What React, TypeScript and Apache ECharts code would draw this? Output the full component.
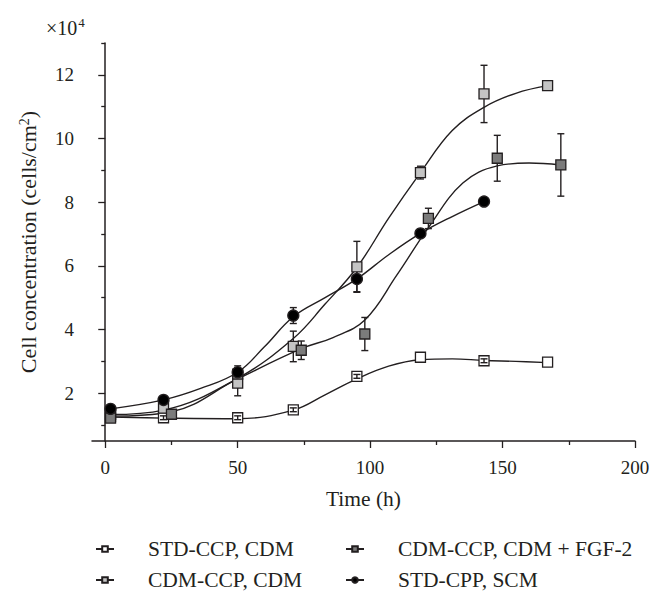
import React, { useEffect, useRef } from "react";
import * as echarts from "echarts";

// ---- data (cell concentration, ×10^4 cells/cm²) ----
const stdCdmTime = [2, 22, 50, 71, 95, 119, 143, 167];
const stdCdmValue = [1.27, 1.23, 1.23, 1.48, 2.53, 3.13, 3.02, 2.98];
const stdCdmErr = [0, 0.06, 0.06, 0.06, 0.06, 0, 0.06, 0];
const stdCdmFitTime = [2, 22, 50, 71, 83, 95, 107, 119, 131, 143, 155, 167];
const stdCdmFitValue = [1.25, 1.22, 1.2, 1.47, 1.95, 2.45, 2.85, 3.05, 3.08, 3.03, 3.0, 2.96];

const cdmCdmTime = [2, 22, 50, 71, 95, 119, 143, 167];
const cdmCdmValue = [1.34, 1.53, 2.32, 3.47, 5.97, 8.93, 11.4, 11.66];
const cdmCdmErr = [0.05, 0.08, 0.4, 0.48, 0.8, 0.2, 0.9, 0.1];
const cdmCdmFitTime = [2, 22, 50, 71, 83, 95, 107, 119, 131, 143, 155, 167];
const cdmCdmFitValue = [1.33, 1.47, 2.47, 3.72, 4.8, 5.95, 7.5, 8.93, 10.25, 10.98, 11.42, 11.66];

const fgfTime = [2, 25, 50, 74, 98, 122, 148, 172];
const fgfValue = [1.22, 1.34, 2.6, 3.35, 3.86, 7.49, 9.38, 9.17];
const fgfErr = [0.05, 0.08, 0.2, 0.29, 0.52, 0.32, 0.72, 0.98];
const fgfFitTime = [2, 25, 50, 74, 86, 98, 110, 122, 135, 148, 160, 172];
const fgfFitValue = [1.28, 1.42, 2.45, 3.4, 3.75, 4.3, 5.7, 7.2, 8.6, 9.14, 9.23, 9.17];

const scmTime = [2, 22, 50, 71, 95, 119, 143];
const scmValue = [1.51, 1.79, 2.66, 4.44, 5.59, 7.02, 8.02];
const scmErr = [0.05, 0.08, 0.2, 0.25, 0.4, 0.1, 0.1];
const scmFitTime = [2, 22, 36, 50, 60, 71, 83, 95, 107, 119, 131, 143];
const scmFitValue = [1.51, 1.79, 2.15, 2.66, 3.45, 4.4, 5.0, 5.59, 6.35, 7.02, 7.55, 8.02];

const xMajorTicks = [0, 50, 100, 150, 200];
const xMinorTicks = [25, 75, 125, 175];
const yMajorTicks = [2, 4, 6, 8, 10, 12];
const yMinorTicks = [1, 3, 5, 7, 9, 11, 13];

const names = ["STD-CCP, CDM", "CDM-CCP, CDM", "CDM-CCP, CDM + FGF-2", "STD-CPP, SCM"];

const FONT = "Liberation Serif";
const INK = "#231f20";

const zip = (t: number[], v: number[]) => t.map((x, i) => [x, v[i]]);
const zip3 = (t: number[], v: number[], e: number[]) => t.map((x, i) => [x, v[i], e[i]]);

const errorBars = (name: string, data: number[][], z: number) => ({
  type: "custom",
  name,
  z,
  silent: true,
  encode: { x: 0, y: 1 },
  data,
  renderItem: (_p: any, api: any) => {
    const x = api.value(0);
    const y = api.value(1);
    const e = api.value(2);
    if (!e) return { type: "group", children: [] };
    const top = api.coord([x, y + e]);
    const bot = api.coord([x, y - e]);
    const hw = 3.5;
    const st = { stroke: INK, lineWidth: 1.4 };
    return {
      type: "group",
      children: [
        { type: "line", shape: { x1: top[0], y1: top[1], x2: bot[0], y2: bot[1] }, style: st },
        { type: "line", shape: { x1: top[0] - hw, y1: top[1], x2: top[0] + hw, y2: top[1] }, style: st },
        { type: "line", shape: { x1: bot[0] - hw, y1: bot[1], x2: bot[0] + hw, y2: bot[1] }, style: st },
      ],
    };
  },
});

const fitLine = (name: string, data: number[][], symbol: string, fill: string) => ({
  type: "line",
  name,
  data,
  smooth: 0.4,
  showSymbol: false,
  symbol,
  symbolSize: 7,
  z: 2,
  lineStyle: { color: INK, width: 1.4 },
  itemStyle: { color: fill, borderColor: INK, borderWidth: 1.2 },
});

const points = (name: string, data: number[][], symbol: string, fill: string, size: number, z: number) => ({
  type: "scatter",
  name,
  data,
  symbol,
  symbolSize: size,
  z,
  itemStyle: { color: fill, borderColor: INK, borderWidth: 1.3, opacity: 1 },
});

export default function App() {
  const ref = useRef<HTMLDivElement>(null);
  useEffect(() => {
    document.body.style.margin = "0";
    if (!ref.current) return;
    const chart = echarts.init(ref.current, null, { renderer: "svg" });
    const tickText = { color: INK, fontFamily: FONT, fontSize: 19 };
    const titleText = { color: INK, fontFamily: FONT, fontSize: 21.5 };
    const legendBase = {
      orient: "vertical",
      top: 533,
      itemWidth: 18,
      itemHeight: 7,
      itemGap: 9,
      textStyle: { ...titleText, padding: [0, 0, 0, 29] },
      selectedMode: false,
    };
    chart.setOption({
      animation: false,
      backgroundColor: "#ffffff",
      textStyle: { fontFamily: FONT, color: INK },
      grid: { left: 92, right: 29, top: 43, bottom: 155 },
      graphic: [
        {
          type: "text",
          left: 46,
          top: 16,
          style: {
            text: "×10{s|4}",
            fill: INK,
            font: `20px '${FONT}'`,
            rich: { s: { fontSize: 13, fontFamily: FONT, verticalAlign: "top", padding: [0, 0, 11, 1] } },
          },
        },
      ],
      legend: [
        { ...legendBase, data: [names[0], names[1]], left: 90 },
        { ...legendBase, data: [names[2], names[3]], left: 340 },
      ],
      xAxis: [
        {
          type: "value",
          min: -5,
          max: 200,
          name: "Time (h)",
          nameLocation: "middle",
          nameGap: 47,
          nameTextStyle: { ...titleText },
          axisLine: { show: true, lineStyle: { color: INK, width: 1.5 } },
          axisTick: { show: true, customValues: xMajorTicks, length: 7, lineStyle: { color: INK, width: 1.3 } },
          axisLabel: { customValues: xMajorTicks, margin: 17, ...tickText },
          splitLine: { show: false },
        },
        {
          type: "value",
          min: -5,
          max: 200,
          position: "bottom",
          axisLine: { show: false },
          axisTick: { show: true, customValues: xMinorTicks, length: 4, lineStyle: { color: INK, width: 1.3 } },
          axisLabel: { show: false },
          splitLine: { show: false },
        },
      ],
      yAxis: [
        {
          type: "value",
          min: 0.5,
          max: 13,
          name: "Cell concentration (cells/cm{sup|2})",
          nameLocation: "middle",
          nameGap: 52,
          nameTextStyle: {
            ...titleText,
            fontSize: 22,
            rich: { sup: { fontSize: 14, fontFamily: FONT, color: INK, verticalAlign: "top", padding: [0, 0, 9, 0] } },
          },
          axisLine: { show: true, lineStyle: { color: INK, width: 1.5 } },
          axisTick: { show: true, customValues: yMajorTicks, length: 7, lineStyle: { color: INK, width: 1.3 } },
          axisLabel: { customValues: yMajorTicks, margin: 18, ...tickText },
          splitLine: { show: false },
        },
        {
          type: "value",
          min: 0.5,
          max: 13,
          position: "left",
          axisLine: { show: false },
          axisTick: { show: true, customValues: yMinorTicks, length: 4, lineStyle: { color: INK, width: 1.3 } },
          axisLabel: { show: false },
          splitLine: { show: false },
        },
      ],
      series: [
        fitLine(names[0], zip(stdCdmFitTime, stdCdmFitValue), "rect", "#ffffff"),
        fitLine(names[1], zip(cdmCdmFitTime, cdmCdmFitValue), "rect", "#c4c4c4"),
        fitLine(names[2], zip(fgfFitTime, fgfFitValue), "rect", "#7b7b7b"),
        fitLine(names[3], zip(scmFitTime, scmFitValue), "circle", "#000000"),
        errorBars("err-cdm", zip3(cdmCdmTime, cdmCdmValue, cdmCdmErr), 3),
        errorBars("err-fgf", zip3(fgfTime, fgfValue, fgfErr), 3),
        errorBars("err-scm", zip3(scmTime, scmValue, scmErr), 3),
        points("pts-std", zip(stdCdmTime, stdCdmValue), "rect", "#ffffff", 10, 4),
        errorBars("err-std", zip3(stdCdmTime, stdCdmValue, stdCdmErr), 5),
        points("pts-cdm", zip(cdmCdmTime, cdmCdmValue), "rect", "#c4c4c4", 10, 4),
        points("pts-fgf", zip(fgfTime, fgfValue), "rect", "#7b7b7b", 10, 4),
        points("pts-scm", zip(scmTime, scmValue), "circle", "#000000", 11, 6),
      ],
    });
    return () => chart.dispose();
  }, []);
  return <div ref={ref} style={{ width: 664, height: 596 }} />;
}
